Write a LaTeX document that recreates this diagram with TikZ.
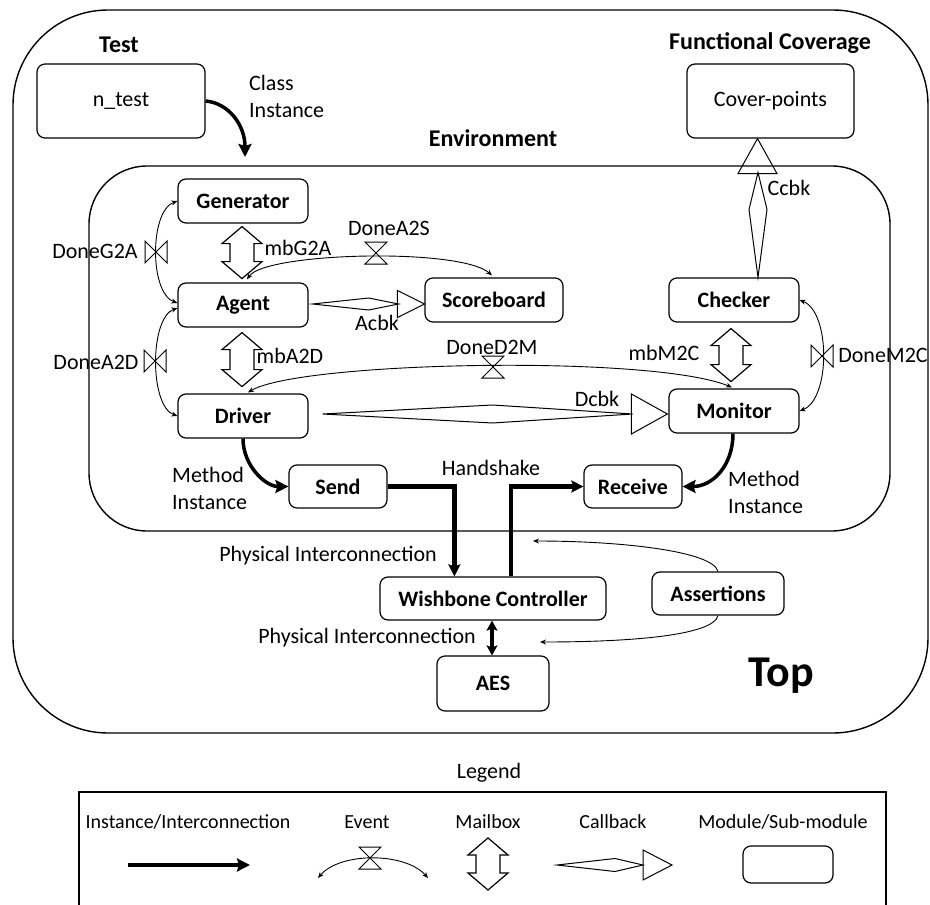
\documentclass[tikz,border=0pt]{standalone}
\usepackage{fontspec}
\setmainfont{Carlito}
\usetikzlibrary{arrows.meta,calc}

\tikzset{
  % event marker across a vertical curve
  pics/bowv/.style={code={\draw[line width=1pt] (-11,-11) -- (11,11) -- (11,-11) -- (-11,11) -- cycle;}},
  % event marker across a horizontal curve
  pics/bowh/.style={code={\draw[line width=1pt] (-11,-11) -- (11,-11) -- (-11,11) -- (11,11) -- cycle;}},
  % mailbox: vertical double block arrow, #1 = overall length
  pics/mailbox/.style={code={\draw[line width=1.2pt, line join=miter]
      (0,0) -- (20,17) -- (12,17) -- (12,#1-17) -- (20,#1-17) -- (0,#1)
      -- (-20,#1-17) -- (-12,#1-17) -- (-12,17) -- (-20,17) -- cycle;}},
}

\begin{document}
\begin{tikzpicture}[x=1pt,y=-1pt,
  lbl/.style={font=\fontsize{22}{27}\selectfont, inner sep=0pt},
  lgtext/.style={font=\fontsize{20}{24}\selectfont, inner sep=0pt},
  head/.style={font=\bfseries\fontsize{24}{29}\selectfont, inner sep=0pt},
  mod/.style={draw, rounded corners=8pt, line width=1.2pt, inner sep=0pt,
              font=\bfseries\fontsize{22}{27}\selectfont},
  plainmod/.style={mod, font=\fontsize{22}{27}\selectfont},
  frame/.style={draw, line width=1.4pt},
  inst/.style={line width=3.5pt, -{Stealth[length=13pt,width=13pt,inset=2pt]}},
  wire/.style={line width=4.5pt, line join=miter, -{Stealth[length=12pt,width=12pt,inset=2pt]}},
  wireboth/.style={line width=4pt, {Stealth[length=10pt,width=11pt,inset=2pt]}-{Stealth[length=10pt,width=11pt,inset=2pt]}},
  ev/.style={line width=0.9pt, {Stealth[length=6pt,width=5pt]}-{Stealth[length=6pt,width=5pt]}},
  evone/.style={line width=0.9pt, -{Stealth[length=6pt,width=5pt]}},
  cb/.style={draw, line width=1pt, line join=miter},
]
\useasboundingbox (0,0) rectangle (930,905);

% ---------- enclosing frames ----------
\draw[frame, rounded corners=95pt] (13,10) rectangle (928,733);
\draw[frame, rounded corners=58pt] (89,166) rectangle (890,531);

% ---------- headings ----------
\node[head] (hTest) at (119,45) {Test};
\node[head] (hCov) at (770,43) {Functional Coverage};
\node[head] (hEnv) at (493,138) {Environment};
\node[font=\bfseries\fontsize{44}{50}\selectfont, inner sep=0pt] (hTop) at (781,676) {Top};

% ---------- modules ----------
\node[plainmod, minimum width=168pt, minimum height=74pt] (ntest) at (121,101) {n\_test};
\node[plainmod, minimum width=167pt, minimum height=74pt] (cover) at (770.5,101) {Cover-points};
\node[mod, minimum width=130pt, minimum height=44pt] (gen) at (243,201) {Generator};
\node[mod, minimum width=130pt, minimum height=44pt] (agent) at (243,305) {Agent};
\node[mod, minimum width=130pt, minimum height=44pt] (driver) at (243,416) {Driver};
\node[mod, minimum width=138pt, minimum height=44pt] (score) at (494,300) {Scoreboard};
\node[mod, minimum width=130pt, minimum height=44pt] (checker) at (734,300) {Checker};
\node[mod, minimum width=130pt, minimum height=44pt] (monitor) at (734,411) {Monitor};
\node[mod, minimum width=98pt, minimum height=43pt] (send) at (338,486.5) {Send};
\node[mod, minimum width=98pt, minimum height=43pt] (receive) at (633,486.5) {Receive};
\node[mod, minimum width=226pt, minimum height=43pt] (wish) at (493,598.5) {Wishbone Controller};
\node[mod, minimum width=132pt, minimum height=43pt] (assert) at (718,593.5) {Assertions};
\node[mod, minimum width=112pt, minimum height=55pt] (aes) at (493,683.5) {AES};

% ---------- labels ----------
\node[lbl, anchor=west, align=left] (lClass) at (249,96) {Class\\Instance};
\node[lbl] (lG2A) at (95,251) {DoneG2A};
\node[lbl] (lmbG2A) at (298,248) {mbG2A};
\node[lbl] (lA2S) at (389,228) {DoneA2S};
\node[lbl] (lAcbk) at (377,323) {Acbk};
\node[lbl] (lCcbk) at (789,188) {Ccbk};
\node[lbl] (lA2D) at (96,362) {DoneA2D};
\node[lbl] (lmbA2D) at (290,356) {mbA2D};
\node[lbl] (lD2M) at (492,347) {DoneD2M};
\node[lbl] (lmbM2C) at (664,353) {mbM2C};
\node[lbl] (lM2C) at (883,355) {DoneM2C};
\node[lbl] (lDcbk) at (597,399) {Dcbk};
\node[lbl, anchor=west, align=left] (lMethL) at (172,488) {Method\\Instance};
\node[lbl] (lHand) at (491,468) {Handshake};
\node[lbl, anchor=west, align=left] (lMethR) at (728,492) {Method\\Instance};
\node[lbl] (lPhys1) at (328,556) {Physical Interconnection};
\node[lbl] (lPhys2) at (367,638) {Physical Interconnection};

% ---------- instance / interconnection arrows ----------
\coordinate (envIn) at (245,157);
\draw[inst] (ntest.east) .. controls +(23,2) and +(0,-32) .. (envIn);
\draw[inst] (driver.south) .. controls +(0,27) and +(-23,0) .. (send.west);
\draw[inst] ($(monitor.south)+(-1,0)$) .. controls +(0,32) and +(30,0) .. (receive.east);
\draw[wire] (send.east) -| ($(wish.north west)+(75,0)$);
\draw[wire] ($(wish.north)+(18,0)$) |- (receive.west);
\draw[wireboth] ($(wish.south)+(-1,0)$) -- ($(aes.north)+(-1,0)$);

% ---------- mailboxes ----------
\pic at ($(gen.south)+(-1,3)$) {mailbox=52};
\pic at ($(agent.south)+(-1,5)$) {mailbox=54};
\pic at ($(checker.south)+(-3,6)$) {mailbox=53};

% ---------- events ----------
\draw[ev] (gen.west) .. controls +(-28,10) and +(-28,-10) .. ($(agent.west)+(0,-2)$);
\pic at (156,252) {bowv};
\draw[ev] ($(agent.west)+(0,3)$) .. controls +(-28,10) and +(-28,-10) .. (driver.west);
\pic at (155,361) {bowv};
\draw[ev] ($(agent.north)+(4,-3)$) .. controls +(18,-27) and +(-32,-28) .. ($(score.north)+(-2,-2)$);
\pic at (376,253) {bowh};
\draw[ev] ($(monitor.north)+(-2,-1)$) .. controls +(-80,-33) and +(52,-31) .. ($(driver.north)+(5,-1)$);
\pic at (493,367) {bowh};
\draw[ev] (checker.east) .. controls +(31,12) and +(31,-12) .. (monitor.east);
\pic at (822,356) {bowv};

% ---------- callbacks ----------
\draw[cb] ($(agent.east)+(4,-1)$) -- ++(56,-6) -- ++(30,6) -- ++(-30,6) -- cycle;
\draw[cb] ($(score.west)+(0,4)$) -- ++(-27,-13.5) -- ++(0,27) -- cycle;
\draw[cb] ($(driver.east)+(14,-2)$) -- ++(170,-9) -- ++(140,9) -- ++(-140,9) -- cycle;
\draw[cb] ($(monitor.west)+(-1,3)$) -- ++(-36,-20) -- ++(0,40) -- cycle;
\draw[cb] ($(checker.north)+(24,0)$) -- ++(-9,-68) -- ++(9,-37) -- ++(9,37) -- cycle;
\draw[cb] ($(cover.south)+(-13,0)$) -- ++(-19.5,35) -- ++(39,0) -- cycle;

% ---------- assertions ----------
\coordinate (asUp) at (533,541);
\coordinate (asLow) at (540,642);
\draw[evone] (assert.north) .. controls +(-5,-20) and +(90,0) .. (asUp);
\draw[evone] (assert.south) .. controls +(-5,20) and +(90,0) .. (asLow);

% ---------- legend ----------
\node[font=\fontsize{22}{27}\selectfont, inner sep=0pt] (lgTitle) at (489,773) {Legend};
\draw[line width=1.3pt] (79,912) -- (79,792) -- (886,792) -- (886,912);
\node[lgtext] (lgT1) at (188,822) {Instance/Interconnection};
\node[lgtext] (lgT2) at (367,822) {Event};
\node[lgtext] (lgT3) at (488,822) {Mailbox};
\node[lgtext] (lgT4) at (613,822) {Callback};
\node[lgtext] (lgT5) at (783,822) {Module/Sub-module};
\coordinate (lgA) at (128,865);
\coordinate (lgB) at (250,865);
\draw[inst] (lgA) -- (lgB);
\coordinate (lgE1) at (318,878);
\coordinate (lgE2) at (428,878);
\draw[ev] (lgE1) .. controls (340,852) and (405,852) .. (lgE2);
\pic at (370,858) {bowh};
\pic at (488,838) {mailbox=52};
\draw[cb] (557,865) -- (615,858.5) -- (643,865) -- (615,871.5) -- cycle;
\draw[cb] (672,865) -- (643,850) -- (643,880) -- cycle;
\node[draw, rounded corners=8pt, line width=1.2pt, minimum width=90pt, minimum height=37pt] (lgMod) at (788,864.5) {};
\end{tikzpicture}
\end{document}
